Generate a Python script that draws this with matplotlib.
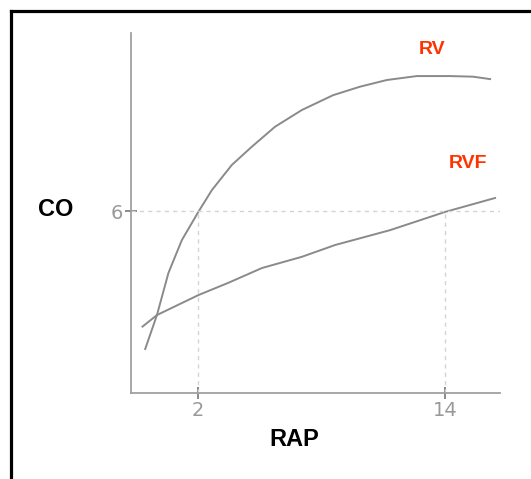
import matplotlib
matplotlib.use("Agg")
import matplotlib.pyplot as plt
from matplotlib.lines import Line2D

# Cardiac output vs right atrial pressure
rv_rap = [-0.58, -0.01, 0.55, 1.20, 2.01, 2.66, 3.63, 4.60, 5.73, 7.03, 8.55,
          9.86, 11.16, 12.62, 14.24, 15.35, 16.18]
rv_co = [1.45, 2.57, 3.96, 5.04, 5.98, 6.69, 7.52, 8.12, 8.78, 9.33, 9.82,
         10.10, 10.32, 10.45, 10.45, 10.43, 10.35]

rvf_rap = [-0.71, -0.01, 2.01, 3.45, 5.09, 7.03, 8.65, 11.32, 13.99, 16.42]
rvf_co = [2.19, 2.57, 3.23, 3.63, 4.12, 4.49, 4.88, 5.37, 5.97, 6.43]

x_ticks = [2, 14]
y_ticks = [6]

W, H = 531, 479
fig = plt.figure(figsize=(W / 100, H / 100), dpi=100)
ax = fig.add_axes([131 / W, 1 - 393 / H, 369 / W, 360 / H])

curve_color = "#8a8a8a"
ax.plot(rv_rap, rv_co, color=curve_color, lw=1.4)
ax.plot(rvf_rap, rvf_co, color=curve_color, lw=1.4)

# dotted guide lines
guide = dict(color="#d4d4d4", lw=1.0, ls=(0, (3, 3)))
ax.plot([-1.27, 16.66], [6, 6], **guide)
for xv in x_ticks:
    ax.plot([xv, xv], [0, 6], **guide)

ax.set_xlim(-1.27, 16.66)
ax.set_ylim(0, 11.87)

for side in ["top", "right"]:
    ax.spines[side].set_visible(False)
for side in ["left", "bottom"]:
    ax.spines[side].set_color("#a0a0a0")
    ax.spines[side].set_linewidth(1.3)

ax.set_xticks(x_ticks)
ax.set_yticks(y_ticks)
ax.tick_params(direction="inout", length=8, width=1.2, color="#777777",
               labelcolor="#999999", labelsize=14, pad=2)

bold = dict(family="Liberation Sans", fontweight="bold", ha="center", va="center")
fig.text(56 / W, 1 - 210 / H, "CO", fontsize=17, color="black", **bold)
fig.text(294 / W, 1 - 440 / H, "RAP", fontsize=17, color="black", **bold)
fig.text(432 / W, 1 - 50 / H, "RV", fontsize=14, color="#ff3300", **bold)
fig.text(468 / W, 1 - 163 / H, "RVF", fontsize=14, color="#ff3300", **bold)

# outer frame (top and left edges only)
frame = dict(color="black", lw=2.3, solid_capstyle="projecting", transform=fig.transFigure)
fig.add_artist(Line2D([11 / W, 1.01], [1 - 11 / H, 1 - 11 / H], **frame))
fig.add_artist(Line2D([11 / W, 11 / W], [-0.01, 1 - 11 / H], **frame))

fig.savefig("out.png", dpi=100)
